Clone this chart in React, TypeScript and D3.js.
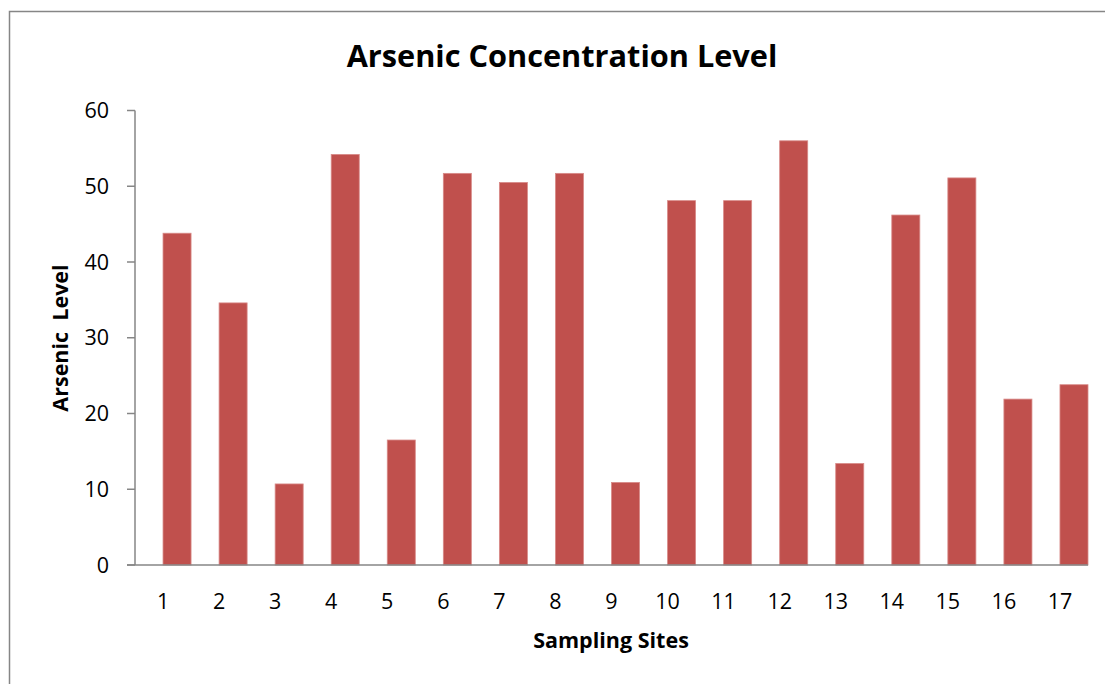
import { useEffect, useRef } from "react";
import * as d3 from "d3";

const sites = ["1", "2", "3", "4", "5", "6", "7", "8", "9", "10", "11", "12", "13", "14", "15", "16", "17"];
const arsenic = [43.8, 34.6, 10.7, 54.2, 16.5, 51.7, 50.5, 51.7, 10.9, 48.1, 48.1, 56.0, 13.4, 46.2, 51.1, 21.9, 23.8];
const yTicks = [0, 10, 20, 30, 40, 50, 60];

export default function App() {
  const svgRef = useRef<SVGSVGElement>(null);

  useEffect(() => {
    if (!svgRef.current) return;
    const svg = d3.select(svgRef.current);
    svg.selectAll("*").remove();

    const left = 135;
    const right = 1088;
    const top = 110.5;
    const bottom = 565;
    const font = "'Open Sans', 'Noto Sans', sans-serif";
    const axisColor = "#868686";

    // outer chart border (runs off the right and bottom of the picture)
    svg.append("rect")
      .attr("x", 9.5)
      .attr("y", 11.5)
      .attr("width", 1120)
      .attr("height", 700)
      .attr("fill", "white")
      .attr("stroke", axisColor)
      .attr("stroke-width", 1.5);

    const x = d3.scaleBand().domain(sites).range([left, right]).padding(0);
    const y = d3.scaleLinear().domain([0, 60]).range([bottom, top]);

    // bars sit in the right half of each band
    svg.append("g")
      .selectAll("rect")
      .data(arsenic)
      .enter()
      .append("rect")
      .attr("x", (_, i) => x(sites[i])! + x.bandwidth() / 2)
      .attr("y", (d) => y(d))
      .attr("width", x.bandwidth() / 2)
      .attr("height", (d) => bottom - y(d))
      .attr("fill", "#c0504d")
      .attr("stroke", "#d88a88")
      .attr("stroke-width", 0.8);

    // y axis
    const gy = svg.append("g");
    gy.append("line")
      .attr("x1", left).attr("x2", left)
      .attr("y1", top).attr("y2", bottom)
      .attr("stroke", axisColor).attr("stroke-width", 1.5);
    gy.selectAll("line.tick")
      .data(yTicks)
      .enter()
      .append("line")
      .attr("class", "tick")
      .attr("x1", left - 8).attr("x2", left)
      .attr("y1", (d) => y(d)).attr("y2", (d) => y(d))
      .attr("stroke", axisColor).attr("stroke-width", 1.5);
    gy.selectAll("text")
      .data(yTicks)
      .enter()
      .append("text")
      .attr("x", 109)
      .attr("y", (d) => y(d))
      .attr("dy", "0.35em")
      .attr("text-anchor", "end")
      .attr("font-family", font)
      .attr("font-size", 21.5)
      .text((d) => d);

    // x axis
    svg.append("line")
      .attr("x1", left - 8).attr("x2", right)
      .attr("y1", bottom).attr("y2", bottom)
      .attr("stroke", axisColor).attr("stroke-width", 1.5);
    svg.append("g")
      .selectAll("text")
      .data(sites)
      .enter()
      .append("text")
      .attr("x", (d) => x(d)! + x.bandwidth() / 2)
      .attr("y", 601)
      .attr("dy", "0.35em")
      .attr("text-anchor", "middle")
      .attr("font-family", font)
      .attr("font-size", 21.5)
      .text((d) => d);

    svg.append("text")
      .attr("x", 562)
      .attr("y", 56)
      .attr("dy", "0.35em")
      .attr("text-anchor", "middle")
      .attr("font-family", font)
      .attr("font-weight", "bold")
      .attr("font-size", 30.7)
      .text("Arsenic Concentration Level");

    svg.append("text")
      .attr("x", 611)
      .attr("y", 640)
      .attr("dy", "0.35em")
      .attr("text-anchor", "middle")
      .attr("font-family", font)
      .attr("font-weight", "bold")
      .attr("font-size", 21.5)
      .text("Sampling Sites");

    svg.append("text")
      .attr("transform", "translate(60,338) rotate(-90)")
      .attr("dy", "0.35em")
      .attr("text-anchor", "middle")
      .attr("font-family", font)
      .attr("font-weight", "bold")
      .attr("font-size", 21.5)
      .style("white-space", "pre")
      .text("Arsenic  Level");
  }, []);

  return (
    <svg
      ref={svgRef}
      width={1105}
      height={684}
      style={{ position: "absolute", left: 0, top: 0, background: "white" }}
    />
  );
}
